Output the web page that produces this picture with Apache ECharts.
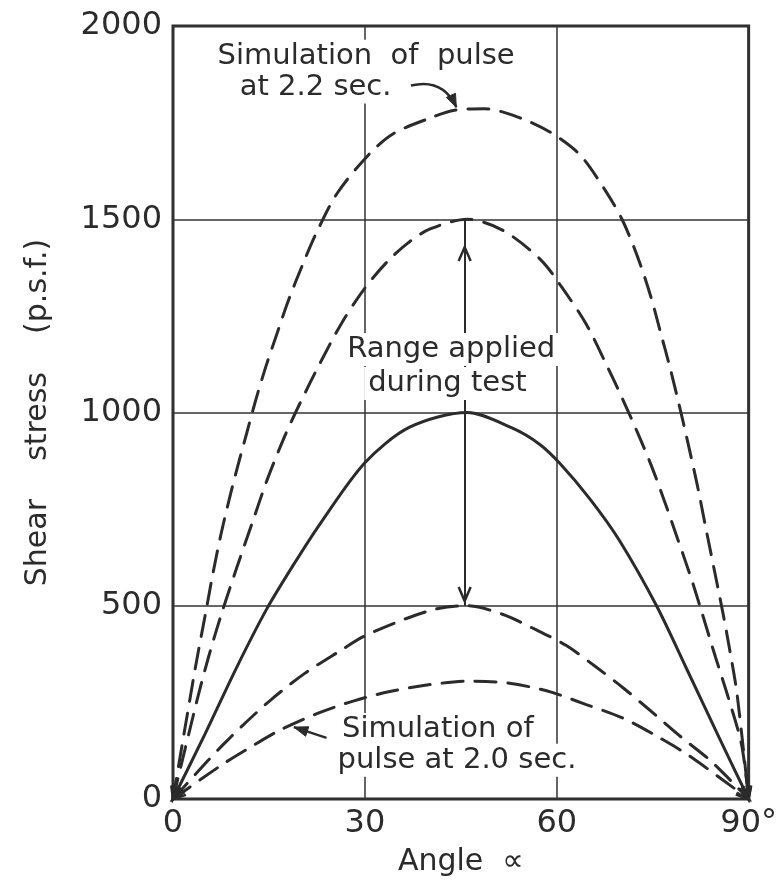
<!DOCTYPE html>
<html><head><meta charset="utf-8">
<script src="https://cdn.jsdelivr.net/npm/echarts@6/dist/echarts.min.js"></script>
<style>html,body{margin:0;background:#fff}#c{width:780px;height:889px}</style>
</head><body><div id="c"></div>
<script>
// ---- data (angle in degrees, shear stress in p.s.f.) ----
const xTicks = [0, 30, 60, 90];
const yTicks = [0, 500, 1000, 1500, 2000];
const xTickLabels = ['0', '30', '60', '90°'];
const pulse22 = [[0,0],[3.5,340],[5.2,490],[6.2,580],[7.5,685],[8.8,776],[10.1,860],[11.5,945],[12.9,1030],[14.5,1118],[16.3,1206],[18,1288],[20.3,1384],[22.4,1464],[25.7,1568],[30.7,1669],[34.5,1722],[40.2,1762],[44,1782],[48.7,1786],[54.3,1762],[59,1725],[63.6,1667],[67.3,1582],[70.2,1500],[72.7,1400],[74.7,1300],[76.1,1215],[77.8,1110],[79.2,1015],[80.5,922],[82,810],[83.2,710],[84.6,595],[85.9,488],[87,390],[88.2,270],[90,0]];
const rangeUpper = [[0,0],[3.9,265],[5.6,370],[7.6,480],[10,600],[12.4,715],[14.7,825],[17.5,940],[19.8,1022],[23,1128],[26.5,1235],[30,1322],[33.6,1392],[37,1442],[40.2,1475],[46,1500],[51.5,1472],[57.5,1395],[61.3,1312],[64.7,1226],[67.9,1119],[70.4,1031],[72.6,949],[74.8,862],[76.9,768],[78.9,673],[81,572],[82.7,482],[84.8,368],[86.9,258],[88.9,140],[90,0]];
const meanStress = [[0,0],[5,168],[10,342],[14.6,490],[18.8,605],[23,712],[30,870],[37,962],[46,1000],[53,960],[57.3,918],[60.5,868],[65.2,776],[69.8,669],[75.6,500],[80.3,337],[85.5,155],[90,0]];
const rangeLower = [[0,0],[5.5,100],[7.8,140],[11,192],[15.4,258],[20.6,325],[25.8,380],[30,422],[36.5,467],[41.5,493],[46,500],[51.5,478],[56.5,440],[61.5,397],[66.1,342],[70.5,286],[75.1,222],[79.4,161],[84.1,98],[90,0]];
const pulse20 = [[0,0],[7.6,88],[11.9,132],[16.7,178],[22.7,222],[28.3,254],[33.9,278],[40.2,296],[46.4,305],[52.3,300],[58.4,280],[64.5,245],[70.5,208],[75.9,160],[80.6,113],[90,0]];
const rangeArrow = [[45.6,500],[45.6,1500]];
const rangeArrowTips = [[45.6,1428],[45.6,512]];
// annotation anchors (data coords)
const noteTop = {l1:'Simulation  of  pulse', p1:[30.2,1922], l2:'at 2.2 sec.', p2:[22.3,1842], from:[37.2,1846], ctrl:[42.2,1866], to:[44.3,1790]};
const noteMid = {l1:'Range applied', p1:[43.5,1163], l2:'during test', p2:[42.9,1075]};
const noteBot = {l1:'Simulation of', p1:[41.4,180], l2:'pulse at 2.0 sec.', p2:[44.4,100], from:[24.0,158], to:[18.9,186]};

const ink = '#2b2b2b';
const FONT = '"DejaVu Sans", sans-serif';
const chart = echarts.init(document.getElementById('c'), null, {renderer:'canvas'});
const curves = [pulse22, rangeUpper, meanStress, rangeLower, pulse20];

function dashed(name, data){
  return {name, type:'line', data, smooth:0.3, symbol:'none', silent:true,
    lineStyle:{color:ink, width:3, type:[21,12], cap:'round'}, z:3};
}

chart.setOption({
  animation:false,
  grid:{left:173, top:26, right:31, bottom:90, show:true, borderColor:ink, borderWidth:3, backgroundColor:'transparent'},
  xAxis:{type:'value', min:0, max:90, interval:30,
    name:'Angle  ∝', nameLocation:'middle', nameGap:48,
    nameTextStyle:{fontFamily:FONT, fontSize:30, color:ink},
    axisLine:{show:false}, axisTick:{show:false},
    axisLabel:{fontFamily:FONT, fontSize:32, color:ink, margin:9,
      formatter:v=>xTickLabels[xTicks.indexOf(v)] ?? ''},
    splitLine:{show:true, lineStyle:{color:'#333', width:1.5}}},
  yAxis:{type:'value', min:0, max:2000, interval:500,
    name:'Shear    stress    (p.s.f.)', nameLocation:'middle', nameGap:120, nameRotate:90,
    nameTextStyle:{fontFamily:FONT, fontSize:30, color:ink},
    axisLine:{show:false}, axisTick:{show:false},
    axisLabel:{fontFamily:FONT, fontSize:32, color:ink, margin:11,
      formatter:v=>yTicks.includes(v)?String(v):''},
    splitLine:{show:true, lineStyle:{color:'#333', width:1.5}}},
  series:[
    dashed('Simulation of pulse at 2.2 sec.', pulse22),
    dashed('Range upper', rangeUpper),
    {name:'Mean', type:'line', data:meanStress, smooth:0.3, symbol:'none', silent:true,
      lineStyle:{color:ink, width:3}, z:3},
    dashed('Range lower', rangeLower),
    dashed('Simulation of pulse at 2.0 sec.', pulse20),
    {name:'Range arrow', type:'line', data:[], silent:true,
      markLine:{silent:true, symbol:['none','none'], label:{show:false},
        lineStyle:{color:ink, width:2, type:'solid'},
        data:[[{coord:rangeArrow[0]},{coord:rangeArrow[1]}]]}, z:4}
  ]
});

function P(d){ return chart.convertToPixel({gridIndex:0}, d); }
function txt(s, d){
  const p = P(d);
  return {type:'text', x:p[0], y:p[1], z:50, silent:true,
    style:{text:s, font:'29px '+FONT, fill:ink, align:'center', verticalAlign:'middle',
      backgroundColor:'#fff', padding:[2,4]}};
}
function head(tip, from, len, spread){
  const dx = tip[0]-from[0], dy = tip[1]-from[1];
  const L = Math.hypot(dx,dy), ux = dx/L, uy = dy/L;
  const bx = tip[0]-ux*len, by = tip[1]-uy*len;
  return {type:'polygon', z:51, silent:true,
    shape:{points:[[bx-uy*spread, by+ux*spread], tip, [bx+uy*spread, by-ux*spread]]},
    style:{fill:ink, stroke:ink, lineWidth:1}};
}
function openHead(tip, from, len, spread, lw){
  const dx = tip[0]-from[0], dy = tip[1]-from[1];
  const L = Math.hypot(dx,dy), ux = dx/L, uy = dy/L;
  const bx = tip[0]-ux*len, by = tip[1]-uy*len;
  return {type:'polyline', z:51, silent:true,
    shape:{points:[[bx-uy*spread, by+ux*spread], tip, [bx+uy*spread, by-ux*spread]]},
    style:{stroke:ink, lineWidth:lw||2.5, fill:null}};
}
const g = [];
g.push(txt(noteTop.l1, noteTop.p1), txt(noteTop.l2, noteTop.p2));
g.push(txt(noteMid.l1, noteMid.p1), txt(noteMid.l2, noteMid.p2));
g.push(txt(noteBot.l1, noteBot.p1), txt(noteBot.l2, noteBot.p2));
{
  const a = P(noteTop.from), c = P(noteTop.ctrl), b = P(noteTop.to);
  g.push({type:'bezierCurve', z:51, silent:true,
    shape:{x1:a[0], y1:a[1], x2:b[0], y2:b[1], cpx1:c[0], cpy1:c[1]},
    style:{stroke:ink, lineWidth:2.5, fill:null}});
  g.push(head(b, c, 13, 5));
}
{
  const a = P(noteBot.from), b = P(noteBot.to);
  g.push({type:'line', z:51, silent:true, shape:{x1:a[0], y1:a[1], x2:b[0], y2:b[1]},
    style:{stroke:ink, lineWidth:2.5}});
  g.push(head(b, a, 14, 5));
}
// open arrowheads on the range arrow
{
  const top = P(rangeArrowTips[0]), bot = P(rangeArrowTips[1]);
  g.push(openHead(top, [top[0], top[1]+20], 14, 6, 2.5));
  g.push(openHead(bot, [bot[0], bot[1]-20], 14, 6, 2.5));
}
// arrowheads where each curve meets the corners
curves.forEach(c => {
  const o = P(c[0]), o1 = P(c[1]);
  g.push(openHead(o, o1, 13, 4, 2.5));
  const e = P(c[c.length-1]), e1 = P(c[c.length-2]);
  g.push(openHead(e, e1, 13, 4, 2.5));
});
chart.setOption({graphic:g});
</script></body></html>
